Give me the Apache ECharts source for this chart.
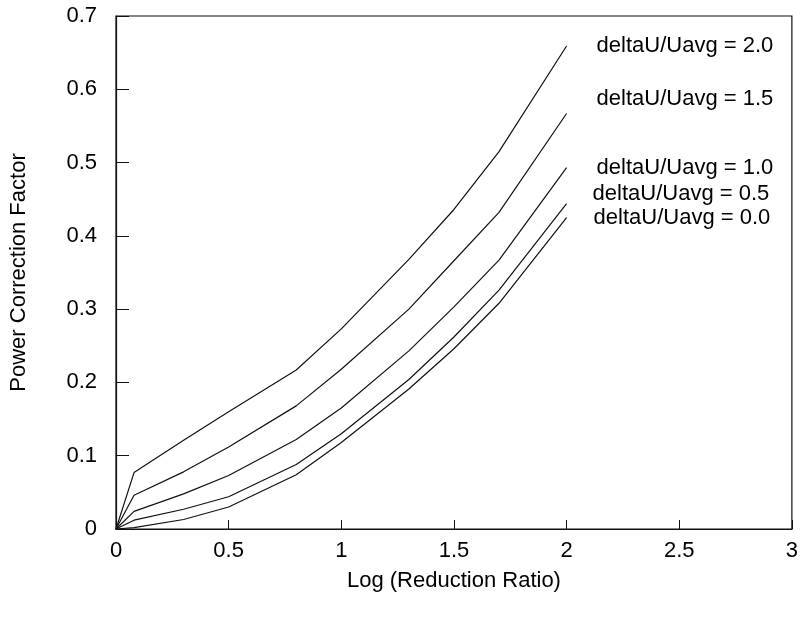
<!DOCTYPE html>
<html>
<head>
<meta charset="utf-8">
<script src="https://cdn.jsdelivr.net/npm/echarts@6/dist/echarts.min.js"></script>
<style>
  html, body { margin: 0; padding: 0; background: #fff; }
  #chart { width: 801px; height: 623px; }
</style>
</head>
<body>
<div id="chart"></div>
<script>
// log10 of the reduction ratio
const xValues = [0, 0.08, 0.3, 0.5, 0.8, 1.0, 1.3, 1.5, 1.7, 2.0];

// power correction factor for each deltaU/Uavg level
const ratio20 = [0, 0.077, 0.121, 0.160, 0.217, 0.273, 0.368, 0.436, 0.515, 0.659];
const ratio15 = [0, 0.046, 0.078, 0.112, 0.168, 0.218, 0.300, 0.366, 0.432, 0.567];
const ratio10 = [0, 0.024, 0.048, 0.073, 0.122, 0.165, 0.243, 0.303, 0.367, 0.493];
const ratio05 = [0, 0.012, 0.027, 0.044, 0.088, 0.130, 0.204, 0.262, 0.326, 0.444];
const ratio00 = [0, 0.002, 0.013, 0.030, 0.074, 0.118, 0.191, 0.246, 0.308, 0.425];

const seriesNames = [
  'deltaU/Uavg = 2.0',
  'deltaU/Uavg = 1.5',
  'deltaU/Uavg = 1.0',
  'deltaU/Uavg = 0.5',
  'deltaU/Uavg = 0.0'
];
const seriesValues = [ratio20, ratio15, ratio10, ratio05, ratio00];
// label placement relative to each curve's last point
const labelOffsets = [[22, 0], [22, -15], [22, 0], [18, -10], [19, 0]];

const FONT = '"Liberation Sans", Arial, Helvetica, sans-serif';

const chart = echarts.init(document.getElementById('chart'), null, { renderer: 'canvas' });

chart.setOption({
  animation: false,
  backgroundColor: '#fff',
  grid: {
    left: 115, right: 9, top: 16, bottom: 94,
    show: true, borderColor: '#111', borderWidth: 1.2
  },
  xAxis: {
    type: 'value',
    min: 0, max: 3, interval: 0.5,
    name: 'Log (Reduction Ratio)',
    nameLocation: 'middle',
    nameGap: 41,
    nameTextStyle: { fontFamily: FONT, fontSize: 22, color: '#000' },
    axisLine: { show: true, lineStyle: { color: '#111', width: 1.2 } },
    axisTick: { show: true, inside: true, length: 9, lineStyle: { color: '#111' } },
    axisLabel: { fontFamily: FONT, fontSize: 22, color: '#000', margin: 11 },
    splitLine: { show: false }
  },
  yAxis: {
    type: 'value',
    min: 0, max: 0.7, interval: 0.1,
    name: 'Power Correction Factor',
    nameLocation: 'middle',
    nameGap: 86,
    nameTextStyle: { fontFamily: FONT, fontSize: 22, color: '#000' },
    axisLine: { show: true, lineStyle: { color: '#111', width: 1.2 } },
    axisTick: { show: true, inside: true, length: 13, lineStyle: { color: '#111' } },
    axisLabel: { fontFamily: FONT, fontSize: 22, color: '#000', margin: 19 },
    splitLine: { show: false }
  },
  series: seriesNames.map((name, i) => ({
    name: name,
    type: 'line',
    data: xValues.map((x, j) => [x, seriesValues[i][j]]),
    showSymbol: false,
    smooth: false,
    lineStyle: { color: '#111', width: 1.2 },
    endLabel: {
      show: true,
      formatter: '{a}',
      fontFamily: FONT,
      fontSize: 22,
      color: '#000',
      offset: labelOffsets[i]
    },
    z: 3
  }))
});
</script>
</body>
</html>
